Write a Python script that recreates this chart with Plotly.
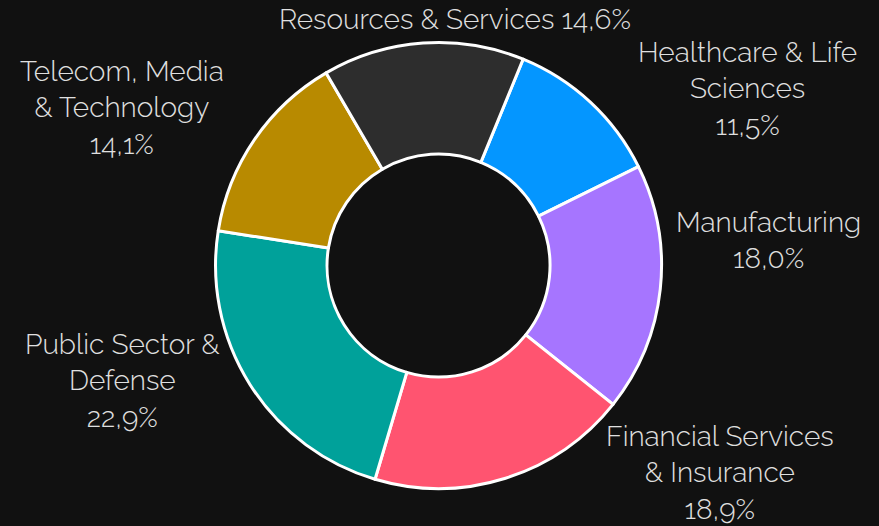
import plotly.graph_objects as go

labels = ["Healthcare & Life<br>Sciences", "Manufacturing", "Financial Services<br>& Insurance",
          "Public Sector &<br>Defense", "Telecom, Media<br>& Technology", "Resources & Services"]
values = [11.5, 18.0, 18.9, 22.9, 14.1, 14.6]

colors = ["#0496FF", "#A675FF", "#FF5470", "#00A19A", "#B88A00", "#2D2D2D"]
joiners = ["<br>"] * 5 + [" "]
# label block centres in pixels (layout only)
label_px = [(747, 89), (768, 240), (720, 473), (122, 381), (122, 108), (455, 20)]

W, H = 879, 526

fig = go.Figure(go.Pie(
    labels=labels, values=values, sort=False, direction="clockwise", rotation=22.3,
    hole=0.5, marker=dict(colors=colors, line=dict(color="white", width=3)),
    textinfo="none", hoverinfo="label+percent", showlegend=False,
    domain=dict(x=[0.2452, 0.7526], y=[0.0713, 0.9192]),
))

total = sum(values)
for lab, v, j, (px, py) in zip(labels, values, joiners, label_px):
    pct = f"{100 * v / total:.1f}%".replace(".", ",")
    fig.add_annotation(
        x=px / W, y=1 - py / H, xref="paper", yref="paper",
        xanchor="center", yanchor="middle", showarrow=False, align="center",
        text=f"{lab}{j}{pct}",
        font=dict(color="#e0e0e0", size=28, family="Raleway, Lato", weight=300),
    )

fig.update_layout(
    width=W, height=H, paper_bgcolor="#111111", plot_bgcolor="#111111",
    margin=dict(l=0, r=0, t=0, b=0), separators=",.",
)
fig.write_html("out.html", config={"displayModeBar": False},
               post_script="document.body.style.margin='0';document.body.style.background='#111111';")
